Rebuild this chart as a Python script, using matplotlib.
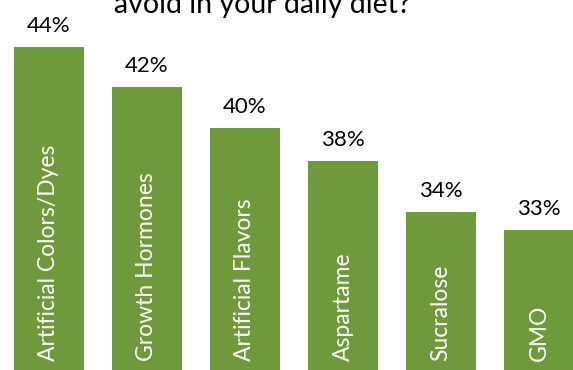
import matplotlib.pyplot as plt

# survey answers, left to right
categories = ['Artificial Colors/Dyes', 'Growth Hormones', 'Artificial Flavors',
              'Aspartame', 'Sucralose', 'GMO']
labels = ['44%', '42%', '40%', '38%', '34%', '33%']
# bar heights (axis is cropped, so these are read, not the labels)
heights = [44.2, 41.8, 39.4, 37.4, 34.4, 33.3]

green = '#6f9a3c'

plt.rcParams['font.family'] = ['Lato', 'DejaVu Sans']

fig = plt.figure(figsize=(5.73, 3.70), dpi=100)
ax = fig.add_axes([0, 0, 1, 1])
x = range(len(categories))
bars = ax.bar(x, heights, width=0.714, color=green)

for xi, b, cat, lab in zip(x, bars, categories, labels):
    ax.text(xi, 25.55, cat, rotation=90, ha='center', va='bottom',
            color='white', fontsize=16.5)
    ax.annotate(lab, (xi, b.get_height()), xytext=(0, 8),
                textcoords='offset points', ha='center', va='bottom', fontsize=16)

ax.set_xlim(-0.5, 5.347)
ax.set_ylim(25, 47)
ax.axis('off')

# second line of the title, its top is cut off in the source picture too
fig.text(262 / 573, 1 - 13 / 370, 'avoid in your daily diet?', ha='center',
         va='baseline', fontsize=20.5)

fig.savefig('out.png', dpi=100)
